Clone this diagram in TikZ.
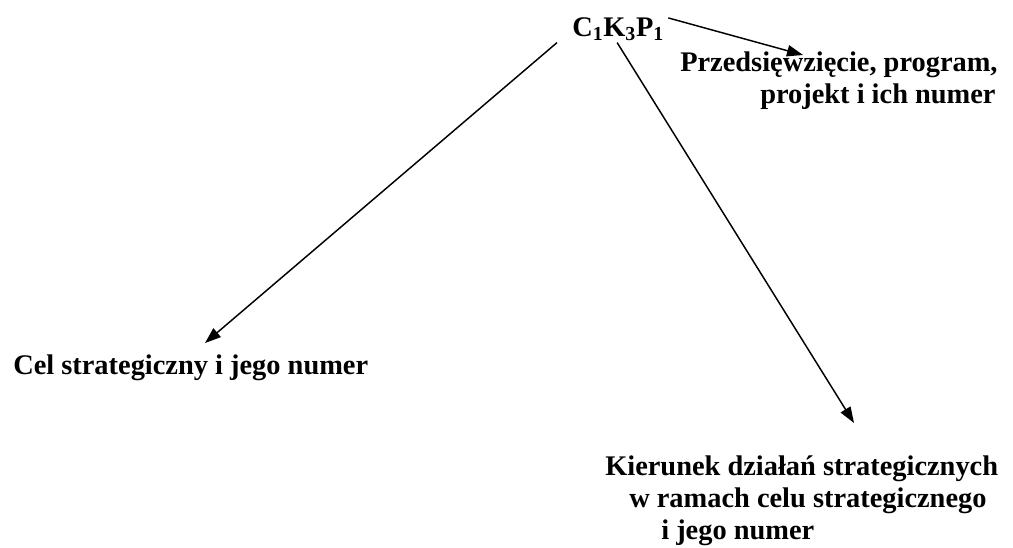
\documentclass[tikz,border=0pt]{standalone}
\usepackage{fontspec}
\setmainfont{Liberation Serif}
\usepackage{tikz}
\usetikzlibrary{calc,arrows.meta,positioning}
\tikzset{
arr/.style={-{Triangle[length=12pt,width=8.5pt]}, line width=1.1pt}, % the arrows out of the code
lbl/.style={inner sep=0pt, anchor=base west, align=left, font=\fontsize{21.3pt}{24pt}\selectfont\bfseries}, % the texts, base = last line
}

\begin{document}
\begin{tikzpicture}[x=0.75pt,y=0.75pt,yscale=-1,xscale=1]
\useasboundingbox (0,0) rectangle (1013,547);
%Code
\node [lbl] (code) at (572,36) {C\textsubscript{1}K\textsubscript{3}P\textsubscript{1}};
%Texts
\node [lbl] (prz) at (680,103) {Przedsięwzięcie, program,\\\hspace*{60pt}projekt i ich numer};
\node [lbl] (cel) at (13,374) {Cel strategiczny i jego numer};
\node [lbl] (kier) at (605,539) {Kierunek działań strategicznych\\\hspace*{18pt}w ramach celu strategicznego\\\hspace*{42pt}i jego numer};
%Arrow ends
\coordinate (tprz) at (803,55);
\coordinate (tcel) at (205,343);
\coordinate (tkier) at (854,423);
%Arrows
\draw [arr] ($(code.north east)+(4,1)$) -- (tprz);
\draw [arr] ($(code.south west)+(-15,2)$) -- (tcel);
\draw [arr] ($(code.south)+(-1,2)$) -- (tkier);
\end{tikzpicture}
\end{document}
